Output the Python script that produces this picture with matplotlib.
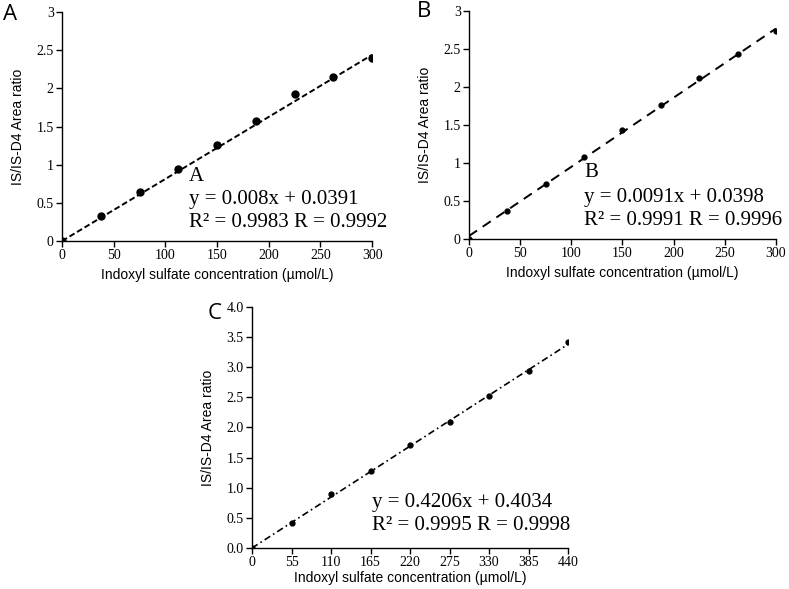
import numpy as np
import matplotlib
matplotlib.use("Agg")
import matplotlib.pyplot as plt

# panel A
conc_a = [0, 37.5, 75, 112.5, 150, 187.5, 225, 262.5, 300]
ratio_a = [0, 0.33, 0.64, 0.95, 1.26, 1.57, 1.92, 2.15, 2.40]
fit_a = (0.008, 0.0391)
text_a = ["A", "y = 0.008x + 0.0391", "R² = 0.9983 R = 0.9992"]

# panel B
conc_b = [0, 37.5, 75, 112.5, 150, 187.5, 225, 262.5, 300]
ratio_b = [0, 0.37, 0.73, 1.08, 1.44, 1.76, 2.12, 2.44, 2.74]
fit_b = (0.0091, 0.0398)
text_b = ["B", "y = 0.0091x + 0.0398", "R² = 0.9991 R = 0.9996"]

# panel C
conc_c = [0, 55, 110, 165, 220, 275, 330, 385, 440]
ratio_c = [0, 0.42, 0.89, 1.27, 1.71, 2.09, 2.52, 2.93, 3.42]
text_c = ["y = 0.4206x + 0.4034", "R² = 0.9995 R = 0.9998"]

xlabel = "Indoxyl sulfate concentration (µmol/L)"
ylabel = "IS/IS-D4 Area ratio"

serif = "Liberation Serif"
sans = "Liberation Sans"
note_size = 15

fig = plt.figure(figsize=(7.89, 5.89), dpi=100)


def style_axes(ax):
    for s in ["top", "right"]:
        ax.spines[s].set_visible(False)
    for s in ["left", "bottom"]:
        ax.spines[s].set_linewidth(1.0)
    ax.tick_params(direction="out", length=4, width=1, pad=2, labelsize=10,
                   labelfontfamily=serif)
    ax.set_xlabel(xlabel, fontfamily=sans, fontsize=10, labelpad=4)
    ax.set_ylabel(ylabel, fontfamily=sans, fontsize=10, labelpad=8)


def put_notes(ax, x, ys, lines):
    for y, line in zip(ys, lines):
        ax.text(x, y, line, transform=ax.transAxes, fontfamily=serif,
                fontsize=note_size, va="center", clip_on=False)


# A
ax_a = fig.add_axes([0.0786, 0.5908, 0.393, 0.3888])
xs = np.array([0, 300])
ax_a.plot(xs, fit_a[0] * xs + fit_a[1] * (xs > 0), color="black", lw=1.4,
          dashes=(3, 1.5), zorder=2)
ax_a.plot(conc_a, ratio_a, "o", color="black", ms=5, zorder=3)
ax_a.set_xlim(0, 300)
ax_a.set_ylim(0, 3)
ax_a.set_xticks(range(0, 301, 50))
ax_a.set_yticks([0, 0.5, 1, 1.5, 2, 2.5, 3])
ax_a.set_yticklabels(["0", "0.5", "1", "1.5", "2", "2.5", "3"])
style_axes(ax_a)
put_notes(ax_a, 0.41, [0.28, 0.183, 0.083], text_a)

# B
ax_b = fig.add_axes([0.5944, 0.5942, 0.389, 0.387])
ax_b.plot(xs, fit_b[0] * xs + fit_b[1], color="black", lw=1.4,
          dashes=(5, 3.5), zorder=2)
ax_b.plot(conc_b, ratio_b, "o", color="black", ms=3.5, zorder=3)
ax_b.set_xlim(0, 300)
ax_b.set_ylim(0, 3)
ax_b.set_xticks(range(0, 301, 50))
ax_b.set_yticks([0, 0.5, 1, 1.5, 2, 2.5, 3])
ax_b.set_yticklabels(["0", "0.5", "1", "1.5", "2", "2.5", "3"])
style_axes(ax_b)
put_notes(ax_b, 0.375, [0.29, 0.184, 0.083], text_b)

# C
ax_c = fig.add_axes([0.3194, 0.0696, 0.4005, 0.4092])
slope, icpt = np.polyfit(conc_c, ratio_c, 1)
xc = np.array([0, 440])
ax_c.plot(xc, slope * xc + icpt * (xc > 0), color="black", lw=1.2,
          dashes=(4, 2, 1, 2), zorder=2)
ax_c.plot(conc_c, ratio_c, "o", color="black", ms=3.5, zorder=3)
ax_c.set_xlim(0, 440)
ax_c.set_ylim(0, 4)
ax_c.set_xticks(conc_c)
ax_c.set_yticks(np.arange(0, 4.01, 0.5))
ax_c.set_yticklabels([f"{v:.1f}" for v in np.arange(0, 4.01, 0.5)])
style_axes(ax_c)
ax_c.xaxis.labelpad = 1
put_notes(ax_c, 0.38, [0.187, 0.095], text_c)

# panel letters
fig.text(0.004, 0.976, "A", fontfamily="Open Sans", fontsize=16, va="center")
fig.text(0.528, 0.981, "B", fontfamily="Open Sans", fontsize=16, va="center")
fig.text(0.263, 0.467, "C", fontfamily="Open Sans", fontsize=16, va="center")

fig.savefig("out.png", dpi=100)
